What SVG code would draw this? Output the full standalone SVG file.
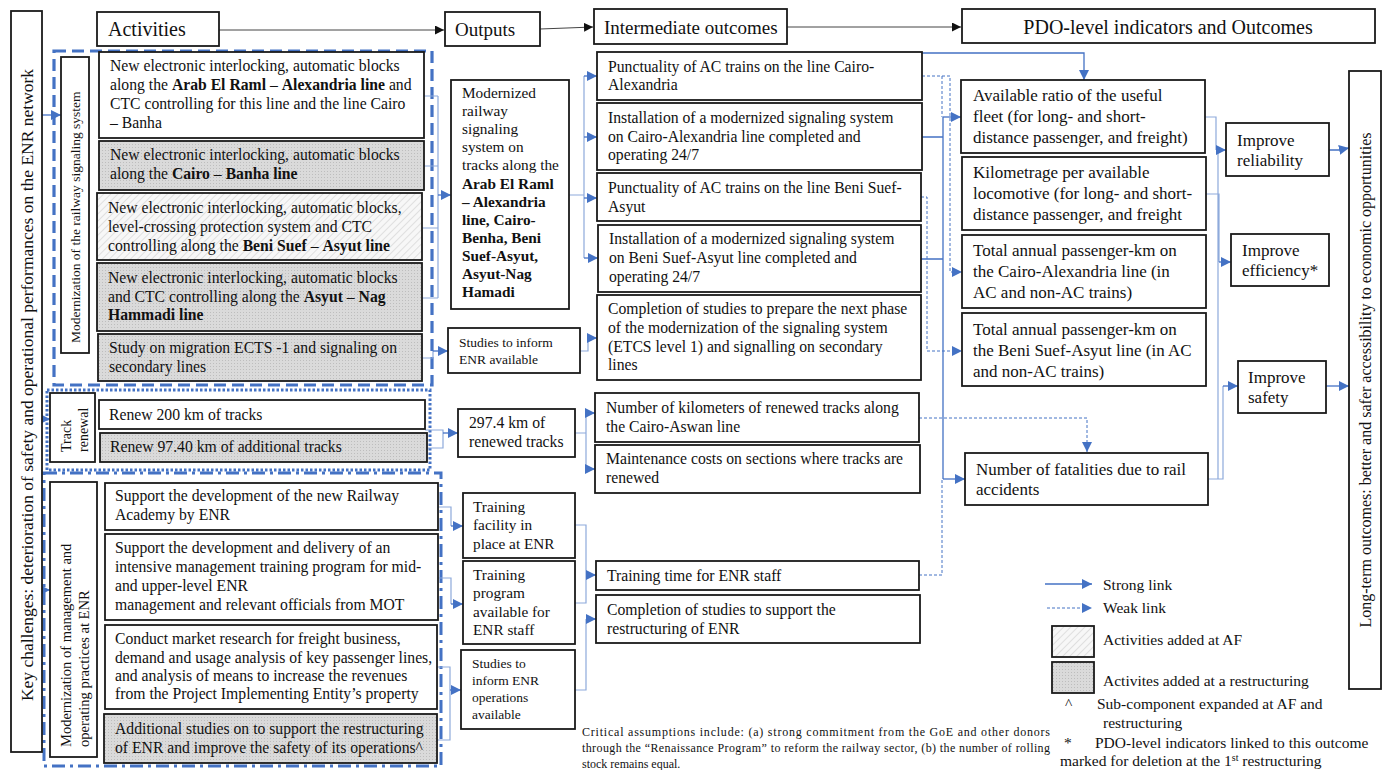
<svg xmlns="http://www.w3.org/2000/svg" width="1392" height="770" viewBox="0 0 1392 770">
<defs>
<style>
text{font-family:"Liberation Serif","Times New Roman",serif;fill:#111;}
.t{font-size:15.7px;}
.u{font-size:15.3px;}
.s{font-size:13.5px;}
.p{font-size:17px;}
.h{font-size:20px;}
.o{font-size:17px;}
.b{font-weight:bold;}
.box{fill:#fff;stroke:#1a1a1a;stroke-width:1.8;}
.af{fill:url(#hatch);stroke:#1a1a1a;stroke-width:1.8;}
.rs{fill:url(#dots);stroke:#1a1a1a;stroke-width:1.8;}
.c{fill:none;stroke:#4472c4;stroke-width:1.3;}
.cl{fill:none;stroke:#8eaadb;stroke-width:1.2;}
.w{fill:none;stroke:#4472c4;stroke-width:1;stroke-dasharray:3 2;}
.k{fill:none;stroke:#444;stroke-width:1;}
</style>
<pattern id="hatch" width="5" height="5" patternUnits="userSpaceOnUse" patternTransform="rotate(45)">
<rect width="5" height="5" fill="#f7f7f7"/>
<line x1="0" y1="0" x2="0" y2="5" stroke="#c8c8c8" stroke-width="1"/>
</pattern>
<pattern id="dots" width="3" height="3" patternUnits="userSpaceOnUse">
<rect width="3" height="3" fill="#dadada"/>
<rect width="1" height="1" fill="#bdbdbd"/>
</pattern>
<marker id="ab" viewBox="0 0 10 10" refX="10" refY="5" markerWidth="10" markerHeight="10" markerUnits="userSpaceOnUse" orient="auto">
<path d="M0,0 L10,5 L0,10 z" fill="#4472c4"/>
</marker>
<marker id="ak" viewBox="0 0 10 10" refX="10" refY="5" markerWidth="9" markerHeight="9" markerUnits="userSpaceOnUse" orient="auto">
<path d="M0,0 L10,5 L0,10 z" fill="#111"/>
</marker>
</defs>
<rect width="1392" height="770" fill="#fff"/>

<!-- group borders -->
<g id="groups">
<rect x="54" y="51" width="378" height="334" fill="none" stroke="#4472c4" stroke-width="3.2" stroke-dasharray="12 6"/>
<rect x="47" y="390" width="383" height="80" fill="none" stroke="#4472c4" stroke-width="3" stroke-dasharray="2.5 2"/>
<rect x="44" y="473" width="397" height="293" fill="none" stroke="#4472c4" stroke-width="3" stroke-dasharray="13 5 3 5"/>
</g>

<!-- connectors -->
<g id="connectors">
<path class="k" d="M219,30 H444" marker-end="url(#ak)"/>
<path class="k" d="M540,29 L593,27" marker-end="url(#ak)"/>
<path class="k" d="M787,27 H961" marker-end="url(#ak)"/>

<path class="c" d="M42,115 H61" marker-end="url(#ab)"/>
<path class="c" d="M42,419 H50" marker-end="url(#ab)"/>
<path class="c" d="M42,590 H50" marker-end="url(#ab)"/>

<path class="cl" d="M424,96 H438 M424,166 H438 M422,228 H438 M422,298 H438 M438,96 V298"/>
<path class="c" d="M438,195 H451" marker-end="url(#ab)"/>
<path class="cl" d="M422,358 H433 V351"/>
<path class="c" d="M433,351 H448" marker-end="url(#ab)"/>
<path class="cl" d="M425,430 H443 V448 H427"/>
<path class="c" d="M443,433 H458" marker-end="url(#ab)"/>
<path class="cl" d="M438,507 H451 V526"/>
<path class="c" d="M451,526 H463" marker-end="url(#ab)"/>
<path class="cl" d="M438,578 H451 V604"/>
<path class="c" d="M451,604 H463" marker-end="url(#ab)"/>
<path class="cl" d="M437,667 H450 V740 H437"/>
<path class="c" d="M450,690 H461" marker-end="url(#ab)"/>

<path class="cl" d="M569,195 H584 M584,76 V258"/>
<path class="c" d="M584,76 H597" marker-end="url(#ab)"/>
<path class="c" d="M584,137 H597" marker-end="url(#ab)"/>
<path class="c" d="M584,198 H597" marker-end="url(#ab)"/>
<path class="c" d="M584,258 H598" marker-end="url(#ab)"/>
<path class="cl" d="M580,351 H588 V338"/>
<path class="c" d="M588,338 H597" marker-end="url(#ab)"/>
<path class="cl" d="M575,433 H586 M586,413 V469"/>
<path class="c" d="M586,413 H595" marker-end="url(#ab)"/>
<path class="c" d="M586,469 H595" marker-end="url(#ab)"/>
<path class="cl" d="M575,525 H586 V603 H575"/>
<path class="c" d="M586,575 H596" marker-end="url(#ab)"/>
<path class="cl" d="M575,690 H586 V619"/>
<path class="c" d="M586,619 H596" marker-end="url(#ab)"/>

<path class="c" d="M922,53 H1084 V80" marker-end="url(#ab)"/>
<path class="c" d="M922,137 H943 M921,259 H943 M943,117 V479"/>
<path class="c" d="M943,117 H961" marker-end="url(#ab)"/>
<path class="c" d="M943,479 H965" marker-end="url(#ab)"/>
<path class="w" d="M922,76 H950 V272 H962" marker-end="url(#ab)"/>
<path class="w" d="M942,76 V117"/>
<path class="w" d="M921,197 H927 V351 H962" marker-end="url(#ab)"/>
<path class="w" d="M919,418 H1087 V452" marker-end="url(#ab)"/>
<path class="w" d="M919,575 H942 V479"/>

<path class="cl" d="M1205,117 H1216 V150 M1208,479 H1218 V150 M1206,194 H1219 V262 M1208,479 H1223 V386"/>
<path class="c" d="M1216,150 H1226" marker-end="url(#ab)"/>
<path class="c" d="M1219,262 H1231" marker-end="url(#ab)"/>
<path class="c" d="M1223,386 H1238" marker-end="url(#ab)"/>
<path class="c" d="M1329,150 H1339 L1349,148" marker-end="url(#ab)"/>
<path class="c" d="M1326,386 H1349" marker-end="url(#ab)"/>
</g>

<!-- side boxes -->
<g id="key-challenges">
<rect class="box" x="11" y="11" width="31" height="741"/>
<text transform="translate(33,385) rotate(-90)" text-anchor="middle" style="font-size:17.5px">Key challenges: deterioration of safety and operational performances on the ENR network</text>
</g>
<g id="long-term">
<rect class="box" x="1349" y="71" width="32" height="618"/>
<text transform="translate(1371,380) rotate(-90)" text-anchor="middle" style="font-size:16px">Long-term outcomes: better and safer accessibility to economic opportunities</text>
</g>

<!-- headers -->
<g id="h-activities"><rect class="box" x="97" y="12" width="122" height="34"/><text class="h" x="108" y="36">Activities</text></g>
<g id="h-outputs"><rect class="box" x="445" y="12" width="95" height="34"/><text class="h" x="455" y="36" style="font-size:19px">Outputs</text></g>
<g id="h-intermediate"><rect class="box" x="594" y="9" width="193" height="35"/><text class="h" x="604" y="34" style="font-size:19px">Intermediate outcomes</text></g>
<g id="h-pdo"><rect class="box" x="962" y="9" width="413" height="34"/><text class="h" x="1168" y="34" text-anchor="middle">PDO-level indicators and Outcomes</text></g>

<!-- component labels -->
<g id="lbl-signaling"><rect class="box" x="61" y="57" width="28" height="296"/><text transform="translate(80,343) rotate(-90)" style="font-size:13.5px">Modernization of the railway signaling system</text></g>
<g id="lbl-track"><rect class="box" x="50" y="393" width="45" height="69"/><text transform="translate(71,452) rotate(-90)" style="font-size:14px">Track</text><text transform="translate(88,452) rotate(-90)" style="font-size:14px">renewal</text></g>
<g id="lbl-mgmt"><rect class="box" x="50" y="482" width="47" height="275"/><text transform="translate(71,747) rotate(-90)" style="font-size:14.5px">Modernization of management and</text><text transform="translate(89,747) rotate(-90)" style="font-size:14.5px">operating practices at ENR</text></g>

<!-- activities -->
<g id="a1"><rect class="box" x="99" y="52" width="325" height="86"/>
<text class="t"><tspan x="110" y="71">New electronic interlocking, automatic blocks</tspan><tspan x="110" y="90">along the <tspan class="b">Arab El Raml</tspan> – <tspan class="b">Alexandria line</tspan> and</tspan><tspan x="110" y="109">CTC controlling for this line and the line Cairo</tspan><tspan x="110" y="128">– Banha</tspan></text></g>
<g id="a2"><rect class="rs" x="99" y="141" width="325" height="49"/>
<text class="t"><tspan x="110" y="160">New electronic interlocking, automatic blocks</tspan><tspan x="110" y="179">along the <tspan class="b">Cairo</tspan> – <tspan class="b">Banha line</tspan></tspan></text></g>
<g id="a3"><rect class="af" x="97" y="193" width="325" height="67"/>
<text class="t"><tspan x="108" y="213">New electronic interlocking, automatic blocks,</tspan><tspan x="108" y="232">level-crossing protection system and CTC</tspan><tspan x="108" y="251">controlling along the <tspan class="b">Beni Suef</tspan> – <tspan class="b">Asyut line</tspan></tspan></text></g>
<g id="a4"><rect class="rs" x="97" y="263" width="325" height="68"/>
<text class="t"><tspan x="108" y="283">New electronic interlocking, automatic blocks</tspan><tspan x="108" y="302">and CTC controlling along the <tspan class="b">Asyut</tspan> – <tspan class="b">Nag</tspan></tspan><tspan x="108" y="320" class="b">Hammadi line</tspan></text></g>
<g id="a5"><rect class="rs" x="98" y="334" width="324" height="47"/>
<text class="t"><tspan x="109" y="353">Study on migration ECTS -1 and signaling on</tspan><tspan x="109" y="372">secondary lines</tspan></text></g>
<g id="a6"><rect class="box" x="99" y="400" width="326" height="29"/><text class="t" x="109" y="420">Renew 200 km of tracks</text></g>
<g id="a7"><rect class="rs" x="100" y="433" width="327" height="29"/><text class="t" x="110" y="452">Renew 97.40 km of additional tracks</text></g>
<g id="a8"><rect class="box" x="105" y="483" width="333" height="47"/>
<text class="t"><tspan x="115" y="501">Support the development of the new Railway</tspan><tspan x="115" y="520">Academy by ENR</tspan></text></g>
<g id="a9"><rect class="box" x="105" y="534" width="333" height="86"/>
<text class="t"><tspan x="115" y="553">Support the development and delivery of an</tspan><tspan x="115" y="572">intensive management training program for mid-</tspan><tspan x="115" y="591">and upper-level ENR</tspan><tspan x="115" y="610">management and relevant officials from MOT</tspan></text></g>
<g id="a10"><rect class="box" x="105" y="625" width="332" height="84"/>
<text class="t"><tspan x="115" y="644">Conduct market research for freight business,</tspan><tspan x="115" y="663">demand and usage analysis of key passenger lines,</tspan><tspan x="115" y="681">and analysis of means to increase the revenues</tspan><tspan x="115" y="699">from the Project Implementing Entity’s property</tspan></text></g>
<g id="a11"><rect class="rs" x="104" y="714" width="333" height="49"/>
<text class="t"><tspan x="115" y="734">Additional studies on to support the restructuring</tspan><tspan x="115" y="753">of ENR and improve the safety of its operations^</tspan></text></g>

<!-- outputs -->
<g id="o1"><rect class="box" x="451" y="80" width="118" height="229"/>
<text class="u"><tspan x="462" y="98">Modernized</tspan><tspan x="462" y="116">railway</tspan><tspan x="462" y="134">signaling</tspan><tspan x="462" y="152">system on</tspan><tspan x="462" y="170">tracks along the</tspan><tspan class="b" x="462" y="189">Arab El Raml</tspan><tspan class="b" x="462" y="207">– Alexandria</tspan><tspan class="b" x="462" y="225">line, Cairo-</tspan><tspan class="b" x="462" y="243">Benha, Beni</tspan><tspan class="b" x="462" y="261">Suef-Asyut,</tspan><tspan class="b" x="462" y="279">Asyut-Nag</tspan><tspan class="b" x="462" y="297">Hamadi</tspan></text></g>
<g id="o2"><rect class="box" x="448" y="328" width="132" height="45"/>
<text class="s"><tspan x="459" y="347">Studies to inform</tspan><tspan x="459" y="364">ENR available</tspan></text></g>
<g id="o3"><rect class="box" x="458" y="409" width="117" height="48"/>
<text class="t"><tspan x="469" y="428">297.4 km of</tspan><tspan x="469" y="447">renewed tracks</tspan></text></g>
<g id="o4"><rect class="box" x="463" y="493" width="112" height="65"/>
<text class="u"><tspan x="473" y="512">Training</tspan><tspan x="473" y="530">facility in</tspan><tspan x="473" y="549">place at ENR</tspan></text></g>
<g id="o5"><rect class="box" x="463" y="561" width="112" height="83"/>
<text class="u"><tspan x="473" y="580">Training</tspan><tspan x="473" y="598">program</tspan><tspan x="473" y="617">available for</tspan><tspan x="473" y="635">ENR staff</tspan></text></g>
<g id="o6"><rect class="box" x="461" y="650" width="114" height="79"/>
<text class="s"><tspan x="472" y="668">Studies to</tspan><tspan x="472" y="685">inform ENR</tspan><tspan x="472" y="702">operations</tspan><tspan x="472" y="719">available</tspan></text></g>

<!-- intermediate outcomes -->
<g id="i1"><rect class="box" x="597" y="52" width="325" height="48"/>
<text class="t"><tspan x="608" y="72">Punctuality of AC trains on the line Cairo-</tspan><tspan x="608" y="90">Alexandria</tspan></text></g>
<g id="i2"><rect class="box" x="597" y="103" width="325" height="67"/>
<text class="t"><tspan x="608" y="123">Installation of a modernized signaling system</tspan><tspan x="608" y="142">on Cairo-Alexandria line completed and</tspan><tspan x="608" y="160">operating 24/7</tspan></text></g>
<g id="i3"><rect class="box" x="597" y="173" width="324" height="48"/>
<text class="t"><tspan x="608" y="193">Punctuality of AC trains on the line Beni Suef-</tspan><tspan x="608" y="212">Asyut</tspan></text></g>
<g id="i4"><rect class="box" x="598" y="225" width="323" height="67"/>
<text class="t"><tspan x="609" y="244">Installation of a modernized signaling system</tspan><tspan x="609" y="263">on Beni Suef-Asyut line completed and</tspan><tspan x="609" y="282">operating 24/7</tspan></text></g>
<g id="i5"><rect class="box" x="597" y="295" width="324" height="85"/>
<text class="t"><tspan x="608" y="314">Completion of studies to prepare the next phase</tspan><tspan x="608" y="333">of the modernization of the signaling system</tspan><tspan x="608" y="352">(ETCS level 1) and signalling on secondary</tspan><tspan x="608" y="370">lines</tspan></text></g>
<g id="i6"><rect class="box" x="595" y="393" width="324" height="49"/>
<text class="t"><tspan x="606" y="413">Number of kilometers of renewed tracks along</tspan><tspan x="606" y="432">the Cairo-Aswan line</tspan></text></g>
<g id="i7"><rect class="box" x="595" y="445" width="325" height="48"/>
<text class="t"><tspan x="606" y="464">Maintenance costs on sections where tracks are</tspan><tspan x="606" y="483">renewed</tspan></text></g>
<g id="i8"><rect class="box" x="596" y="561" width="323" height="29"/><text class="t" x="607" y="581">Training time for ENR staff</text></g>
<g id="i9"><rect class="box" x="596" y="595" width="324" height="48"/>
<text class="t"><tspan x="607" y="615">Completion of studies to support the</tspan><tspan x="607" y="634">restructuring of ENR</tspan></text></g>

<!-- PDO indicators -->
<g id="p1"><rect class="box" x="961" y="80" width="244" height="73"/>
<text class="p"><tspan x="973" y="101">Available ratio of the useful</tspan><tspan x="973" y="122">fleet (for long- and short-</tspan><tspan x="973" y="143">distance passenger, and freight)</tspan></text></g>
<g id="p2"><rect class="box" x="962" y="157" width="244" height="73"/>
<text class="p"><tspan x="973" y="178">Kilometrage per available</tspan><tspan x="973" y="199">locomotive (for long- and short-</tspan><tspan x="973" y="220">distance passenger, and freight</tspan></text></g>
<g id="p3"><rect class="box" x="962" y="235" width="244" height="73"/>
<text class="p"><tspan x="973" y="256">Total annual passenger-km on</tspan><tspan x="973" y="277">the Cairo-Alexandria line (in</tspan><tspan x="973" y="298">AC and non-AC trains)</tspan></text></g>
<g id="p4"><rect class="box" x="962" y="313" width="244" height="73"/>
<text class="p"><tspan x="973" y="335">Total annual passenger-km on</tspan><tspan x="973" y="356">the Beni Suef-Asyut line (in AC</tspan><tspan x="973" y="377">and non-AC trains)</tspan></text></g>
<g id="p5"><rect class="box" x="965" y="453" width="243" height="52"/>
<text class="p"><tspan x="976" y="475">Number of fatalities due to rail</tspan><tspan x="976" y="495">accidents</tspan></text></g>

<!-- outcomes -->
<g id="r1"><rect class="box" x="1226" y="123" width="103" height="53"/>
<text class="o"><tspan x="1237" y="146">Improve</tspan><tspan x="1237" y="166">reliability</tspan></text></g>
<g id="r2"><rect class="box" x="1231" y="234" width="98" height="52"/>
<text class="o"><tspan x="1242" y="256">Improve</tspan><tspan x="1242" y="276">efficiency*</tspan></text></g>
<g id="r3"><rect class="box" x="1238" y="361" width="88" height="52"/>
<text class="o"><tspan x="1248" y="383">Improve</tspan><tspan x="1248" y="403">safety</tspan></text></g>

<!-- assumptions -->
<g id="assumptions" style="font-size:12px">
<text x="582" y="736" textLength="468" lengthAdjust="spacing">Critical assumptions include: (a) strong commitment from the GoE and other donors</text>
<text x="582" y="752" textLength="468" lengthAdjust="spacing">through the “Renaissance Program” to reform the railway sector, (b) the number of rolling</text>
<text x="582" y="768">stock remains equal.</text>
</g>

<!-- legend -->
<g id="legend" style="font-size:15.5px">
<path class="c" d="M1045,584 H1092" marker-end="url(#ab)"/>
<text x="1103" y="590">Strong link</text>
<path class="w" d="M1047,608 H1092" marker-end="url(#ab)"/>
<text x="1103" y="613">Weak link</text>
<rect class="af" x="1052" y="626" width="42" height="31"/>
<text x="1103" y="645">Activities added at AF</text>
<rect class="rs" x="1052" y="662" width="42" height="31"/>
<text x="1103" y="686">Activites added at a restructuring</text>
<text x="1065" y="709">^</text>
<text x="1097" y="709">Sub-component expanded at AF and</text>
<text x="1103" y="728">restructuring</text>
<text x="1064" y="748">*</text>
<text x="1095" y="748">PDO-level indicators linked to this outcome</text>
<text x="1060" y="766">marked for deletion at the 1<tspan dy="-5" style="font-size:10px">st</tspan><tspan dy="5"> restructuring</tspan></text>
</g>
</svg>
